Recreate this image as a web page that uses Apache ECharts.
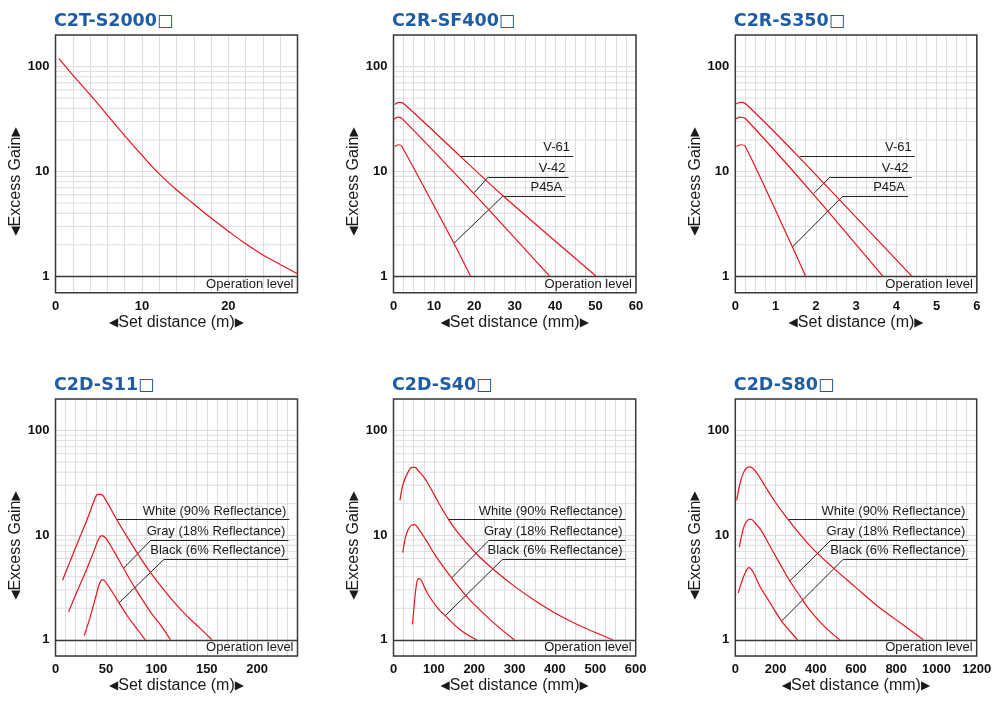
<!DOCTYPE html>
<html><head><meta charset="utf-8">
<script src="https://cdn.jsdelivr.net/npm/echarts@6/dist/echarts.min.js"></script>
<style>html,body{margin:0;padding:0;background:#fff}#c{width:994px;height:701px}</style>
</head><body><div id="c"></div>
<script>
// ---------- text ----------
const panelTitles = ['C2T-S2000\u25A1', 'C2R-SF400\u25A1', 'C2R-S350\u25A1', 'C2D-S11\u25A1', 'C2D-S40\u25A1', 'C2D-S80\u25A1'];
const xAxisNames = ['Set distance (m)', 'Set distance (mm)', 'Set distance (m)', 'Set distance (m)', 'Set distance (mm)', 'Set distance (mm)'];
const yAxisName = 'Excess Gain';
const arrowL = '\u25C0', arrowR = '\u25B6';
const opLevelText = 'Operation level';
const retroLabels = ['V-61', 'V-42', 'P45A'];
const reflLabels = ['White (90% Reflectance)', 'Gray (18% Reflectance)', 'Black (6% Reflectance)'];

// ---------- axes ----------
const xMax = [28, 60, 6, 240, 600, 1200];
const xGridStep = [2, 2.5, 0.25, 10, 25, 50];
const xLabelStep = [10, 10, 1, 50, 100, 200];
const yMin = 0.7, yMax = 200;
const yTickLabels = [1, 10, 100];
const yMinorLines = [2, 3, 4, 5, 6, 7, 8, 9, 20, 30, 40, 50, 60, 70, 80, 90];
const opLevel = 1;

// ---------- series: [distance, excess gain] ----------
const c2tS2000 = [[0.4,119],[2,83],[4,54],[6,34.5],[8,22],[10,14.3],[12,9.5],[14,6.7],[16,4.9],[18,3.6],[20,2.7],[22,2.05],[24,1.6],[26,1.3],[28,1.06]];

const sf400V61 = [[0.3,43.5],[1.3,45.5],[2.5,44.5],[16.4,14.1],[27,5.9],[50.2,1.0]];
const sf400V42 = [[0.2,31.5],[1,33],[2,32.3],[20,6.1],[38.7,1.0]];
const sf400P45A = [[0.3,17.3],[1.2,18],[2,17.5],[15,2.05],[19.1,1.0]];

const s350V61 = [[0.02,44],[0.12,45.5],[0.25,44.5],[1.6,13.5],[4.39,1.0]];
const s350V42 = [[0.02,31.8],[0.1,33],[0.25,32],[1.95,6.0],[3.67,1.0]];
const s350P45A = [[0.03,17.3],[0.12,18],[0.25,17.3],[1.42,1.91],[1.75,1.0]];

const s11White = [[7,3.7],[15,5.8],[25,10],[33,15.5],[38,21],[42,24.5],[45,24.5],[50,21.5],[60,14.5],[70,10],[80,7],[90,5],[100,3.7],[115,2.45],[130,1.7],[143,1.3],[155,1.0]];
const s11Gray = [[13,1.85],[20,2.7],[30,4.5],[38,7],[43,9.3],[46,9.9],[50,9.3],[58,7],[67,4.9],[80,3.0],[95,1.8],[105,1.35],[114,1.0]];
const s11Black = [[28.5,1.1],[34,1.6],[40,2.6],[44,3.5],[47,3.75],[51,3.4],[57,2.8],[63,2.25],[72,1.65],[80,1.3],[89,1.0]];

const s40White = [[16,21.5],[24,31],[36,40],[46,44.5],[53,44.5],[62,41],[75,36],[90,29],[110,21],[132,15],[160,10.5],[206,6.6],[250,4.62],[300,3.24],[350,2.37],[400,1.8],[450,1.43],[500,1.175],[543,1.0]];
const s40Gray = [[23,6.8],[29,9.3],[36,11.2],[44,12.4],[52,12.6],[62,11.5],[81,8.9],[106,6.2],[144,3.9],[181,2.6],[210,2.0],[240,1.55],[270,1.23],[299,1.0]];
const s40Black = [[47,1.4],[52,2.3],[57,3.4],[62,3.85],[68,3.75],[78,3.1],[90,2.55],[110,2.0],[128,1.7],[165,1.25],[206,1.0]];

const s80White = [[7,21.5],[23,31],[45,41],[70,45],[100,41],[150,29],[200,20.5],[263,14.1],[320,10.3],[380,7.6],[480,5.0],[600,3.15],[700,2.15],[800,1.55],[935,1.0]];
const s80Gray = [[20,7.7],[37,11],[55,13.5],[76,14.2],[100,13],[130,11],[170,8.0],[220,5.4],[271,3.65],[320,2.65],[372,1.9],[450,1.3],[519,1.0]];
const s80Black = [[15,2.8],[30,3.5],[50,4.4],[68,4.9],[90,4.4],[120,3.3],[170,2.3],[230,1.51],[270,1.22],[310,1.0]];

// ---------- leader lines: [start on curve, elbow, end] in data units ----------
const sf400Leaders = [[[16.4,14.06],[16.4,14.06],[44.4,14.06]], [[20,6.3],[23.5,8.91],[43.3,8.91]], [[15,2.08],[27,5.8],[42.5,5.8]]];
const s350Leaders = [[[1.6,14.06],[1.6,14.06],[4.46,14.06]], [[1.95,6.18],[2.36,8.91],[4.38,8.91]], [[1.42,1.91],[2.67,5.8],[4.29,5.8]]];
const s11Leaders = [[[60.7,14.1],[60.7,14.1],[232,14.1]], [[67.3,4.8],[94.5,8.93],[231,8.93]], [[63,2.25],[107.7,5.89],[231,5.89]]];
const s40Leaders = [[[135.8,14.1],[135.8,14.1],[575,14.1]], [[144,3.9],[236.6,8.93],[575,8.93]], [[127.6,1.69],[270.5,5.89],[575,5.89]]];
const s80Leaders = [[[263,14.1],[263,14.1],[1158,14.1]], [[271.4,3.65],[474.4,8.93],[1158,8.93]], [[230,1.51],[536.9,5.89],[1158,5.89]]];

// ---------- layout / style ----------
const boxes = [
  {left: 55.5, top: 35, width: 242, height: 257.7},
  {left: 393.5, top: 35, width: 242.5, height: 257.7},
  {left: 735.3, top: 35, width: 241.5, height: 257.7},
  {left: 55.5, top: 399, width: 242, height: 257},
  {left: 393.5, top: 399, width: 242.2, height: 257},
  {left: 735.3, top: 399, width: 241.4, height: 257}
];
const RED = '#e8141b';
const GRIDC = '#dddddd';
const FONT = '"Liberation Sans", Arial, sans-serif';
const TITLE_FONT = '"DejaVu Sans", sans-serif';
const arrowRich = {t: {fontFamily: '"DejaVu Sans", sans-serif', fontSize: 12, color: '#1a1a1a', verticalAlign: 'middle'},
                   n: {fontFamily: FONT, fontSize: 16, color: '#1a1a1a', verticalAlign: 'middle'}};
const withArrows = s => '{t|' + arrowL + '}{n|' + s + '}{t|' + arrowR + '}';

const panels = [
  {curves: [c2tS2000], leaders: null, labels: null, smooth: 0.4},
  {curves: [sf400V61, sf400V42, sf400P45A], leaders: sf400Leaders, labels: retroLabels, smooth: 0.25},
  {curves: [s350V61, s350V42, s350P45A], leaders: s350Leaders, labels: retroLabels, smooth: 0.25},
  {curves: [s11White, s11Gray, s11Black], leaders: s11Leaders, labels: reflLabels, smooth: 0.4},
  {curves: [s40White, s40Gray, s40Black], leaders: s40Leaders, labels: reflLabels, smooth: 0.4},
  {curves: [s80White, s80Gray, s80Black], leaders: s80Leaders, labels: reflLabels, smooth: 0.4}
];

const grid = [], xAxis = [], yAxis = [], series = [], title = [], graphic = [];

panels.forEach((p, i) => {
  const b = boxes[i];
  grid.push({left: b.left, top: b.top, width: b.width, height: b.height, show: true,
    borderColor: '#3a3a3a', borderWidth: 1.5, backgroundColor: 'transparent', z: 3,
    containLabel: false, outerBoundsMode: 'none'});
  const step = xLabelStep[i];
  xAxis.push({type: 'value', gridIndex: i, min: 0, max: xMax[i], interval: xGridStep[i],
    axisLine: {show: false}, axisTick: {show: false},
    splitLine: {show: true, lineStyle: {color: GRIDC, width: 1}},
    axisLabel: {margin: 7, color: '#111', fontFamily: FONT, fontWeight: 'bold', fontSize: 13,
      formatter: v => (Math.abs(v / step - Math.round(v / step)) < 1e-6) ? String(Math.round(v * 100) / 100) : ''},
    name: withArrows(xAxisNames[i]), nameLocation: 'middle', nameGap: 22,
    nameTextStyle: {color: '#1a1a1a', fontFamily: FONT, fontSize: 16, rich: arrowRich}
  });
  yAxis.push({type: 'log', logBase: 10, gridIndex: i, min: yMin, max: yMax,
    axisLine: {show: false}, axisTick: {show: false},
    splitLine: {show: true, lineStyle: {color: GRIDC, width: 1}},
    axisLabel: {margin: 6, color: '#111', fontFamily: FONT, fontWeight: 'bold', fontSize: 13,
      formatter: v => yTickLabels.some(t => Math.abs(v - t) < 1e-6 * t) ? String(Math.round(v)) : ''}
  });
  // minor horizontal grid lines (2..9 of each decade), drawn through the log axis
  yMinorLines.forEach(v => {
    series.push({type: 'line', xAxisIndex: i, yAxisIndex: i, data: [[0, v], [xMax[i], v]], z: 1, silent: true,
      showSymbol: false, symbol: 'none', lineStyle: {color: GRIDC, width: 1}, clip: true});
  });
  // operation level
  series.push({type: 'line', xAxisIndex: i, yAxisIndex: i, data: [], z: 4, silent: true,
    markLine: {silent: true, animation: false, symbol: ['none', 'none'],
      lineStyle: {color: '#3a3a3a', width: 1.3, type: 'solid'},
      label: {show: true, position: 'insideEndBottom', formatter: opLevelText, distance: [4, 1.5],
        color: '#1a1a1a', fontFamily: FONT, fontSize: 13},
      data: [{yAxis: opLevel}]}
  });
  // curves
  p.curves.forEach(c => {
    series.push({type: 'line', xAxisIndex: i, yAxisIndex: i, data: c, showSymbol: false, symbol: 'none',
      smooth: p.smooth, silent: true, z: 5, lineStyle: {color: RED, width: 1.2}});
  });
  // leader lines with labels
  if (p.leaders) {
    const ml = [];
    p.leaders.forEach((L, k) => {
      const [a, e, f] = L;
      if (a[0] !== e[0] || a[1] !== e[1]) ml.push([{coord: a, label: {show: false}}, {coord: e}]);
      ml.push([{coord: e, label: {show: true, formatter: p.labels[k]}}, {coord: f}]);
    });
    series.push({type: 'line', xAxisIndex: i, yAxisIndex: i, data: [], z: 4, silent: true,
      markLine: {silent: true, animation: false, symbol: ['none', 'none'],
        lineStyle: {color: '#222', width: 1, type: 'solid'},
        label: {position: 'insideEndTop', distance: [3, 2], color: '#1a1a1a', fontFamily: FONT, fontSize: 13},
        data: ml}
    });
  }
  title.push({text: panelTitles[i], left: b.left - 1.5, top: b.top - 23, padding: 0,
    textStyle: {color: '#1f5ca6', fontFamily: TITLE_FONT, fontWeight: 'bold', fontSize: 17.5}});
  graphic.push({type: 'text', x: b.left - 40, y: b.top + 146.5, rotation: Math.PI / 2, silent: true,
    style: {text: withArrows(yAxisName), rich: arrowRich, fill: '#1a1a1a', fontFamily: FONT, fontSize: 16,
      align: 'center', verticalAlign: 'middle', textAlign: 'center', textVerticalAlign: 'middle'}});
});

const chart = echarts.init(document.getElementById('c'), null, {renderer: 'canvas'});
chart.setOption({animation: false, backgroundColor: '#fff', title, grid, xAxis, yAxis, series, graphic});
</script></body></html>
